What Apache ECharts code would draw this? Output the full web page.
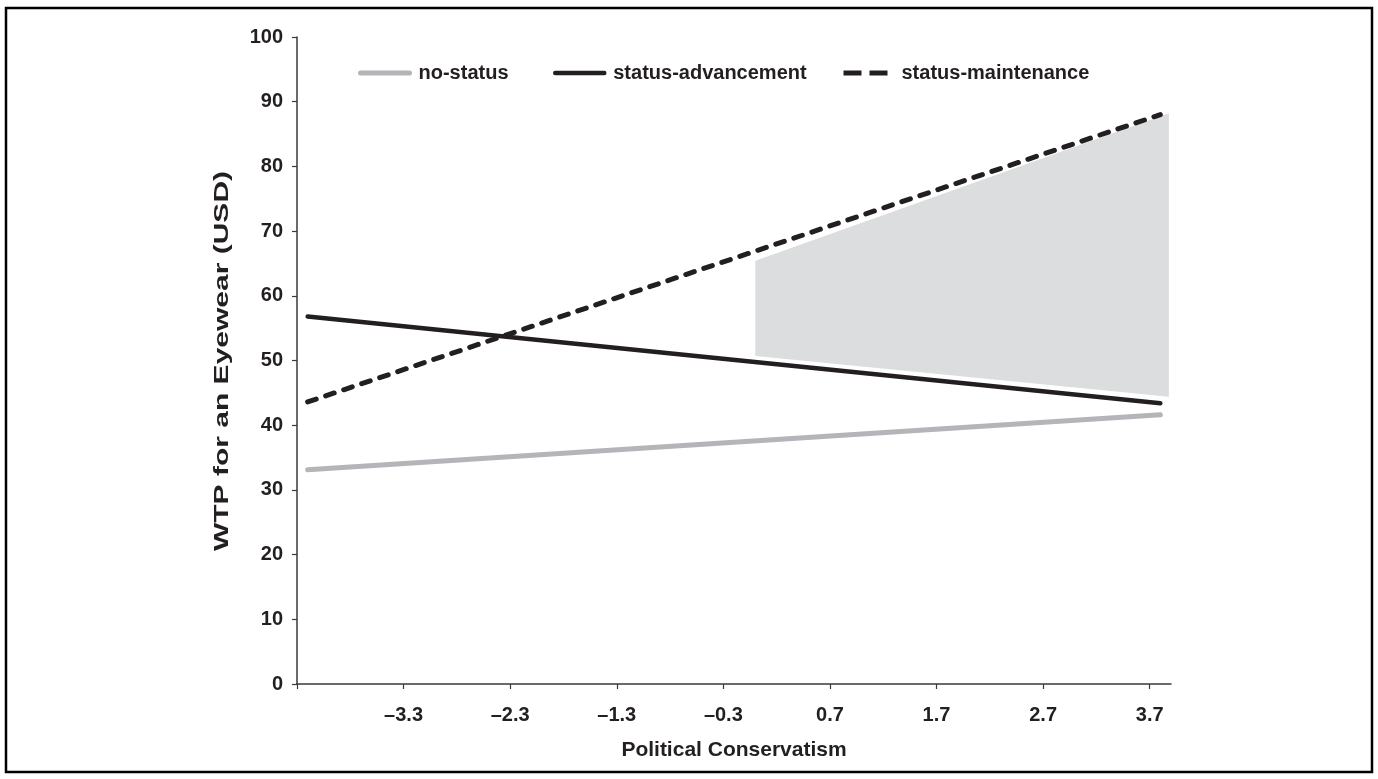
<!DOCTYPE html>
<html>
<head>
<meta charset="utf-8">
<title>WTP for an Eyewear by Political Conservatism</title>
<script src="https://cdn.jsdelivr.net/npm/echarts@6/dist/echarts.min.js"></script>
<style>
  html, body { margin: 0; padding: 0; background: #fff; }
  #chart { width: 1378px; height: 779px; }
</style>
</head>
<body>
<div id="chart"></div>
<script>
// Simple slopes of willingness-to-pay across political conservatism
const seriesNames = ['no-status', 'status-advancement', 'status-maintenance'];
const conservatismRange = [-4.2, 3.8];           // x values at line ends
const noStatus = [33.1, 41.6];
const statusAdvancement = [56.8, 43.4];
const statusMaintenance = [43.6, 88.0];

// Region of significance (shaded)
const regionX = [0.0, 3.88];
const regionUpper = [65.4, 88.2];
const regionLower = [50.7, 44.4];

// Axis ticks and labels
const xTicks = [-4.3, -3.3, -2.3, -1.3, -0.3, 0.7, 1.7, 2.7, 3.7];
const xLabels = [-3.3, -2.3, -1.3, -0.3, 0.7, 1.7, 2.7, 3.7];
const yMin = 0, yMax = 100, yStep = 10;
const yTitle = 'WTP for an Eyewear (USD)';

const ink = '#231f20';
const axisInk = '#3a3a3a';
const font = 'Liberation Sans, Arial, Helvetica, sans-serif';

function pairs(xs, ys) { return xs.map((x, i) => [x, ys[i]]); }

const chart = echarts.init(document.getElementById('chart'), null, { renderer: 'canvas' });

// round caps lengthen each dash by the line width, so the series dash array is set short;
// the legend key gets a longer pattern so that only three dashes fit in it
const lineDefs = [
  { name: seriesNames[0], data: noStatus, color: '#b4b4b9', width: 5, type: 'solid', legendType: 'solid', legendCap: 'round' },
  { name: seriesNames[1], data: statusAdvancement, color: ink, width: 4.5, type: 'solid', legendType: 'solid', legendCap: 'round' },
  { name: seriesNames[2], data: statusMaintenance, color: ink, width: 5, type: [9, 10], legendType: [18, 8], legendCap: 'butt' }
];

const legendLeft = [358, 553, 841];

const option = {
  animation: false,
  backgroundColor: '#fff',
  grid: { left: 297, right: 207, top: 37, bottom: 95, containLabel: false, outerBoundsMode: 'none' },
  legend: lineDefs.map((d, i) => ({
    data: [d.name],
    left: legendLeft[i],
    top: 63,
    padding: 0,
    itemWidth: 49,
    itemHeight: 20,
    selectedMode: false,
    itemStyle: { opacity: 0 },
    textStyle: { fontFamily: font, fontWeight: 'bold', fontSize: 20, color: ink, padding: [0, 0, 0, 4] },
    lineStyle: { width: d.width, type: d.legendType, cap: d.legendCap, color: d.color, opacity: 1 }
  })),
  xAxis: {
    type: 'value',
    min: -4.3,
    max: 3.9,
    name: 'Political Conservatism',
    nameLocation: 'middle',
    nameGap: 56,
    nameTextStyle: { fontFamily: font, fontWeight: 'bold', fontSize: 21, color: ink },
    splitLine: { show: false },
    axisLine: { show: true, onZero: false, lineStyle: { color: axisInk, width: 1.5 } },
    axisTick: { show: true, customValues: xTicks, length: 5, lineStyle: { color: axisInk, width: 1.2 } },
    axisLabel: {
      customValues: xLabels,
      margin: 21,
      fontFamily: font, fontWeight: 'bold', fontSize: 20, color: ink,
      formatter: v => (v < 0 ? '\u2013' : '') + Math.abs(v).toFixed(1)
    }
  },
  yAxis: {
    type: 'value',
    min: yMin,
    max: yMax,
    interval: yStep,
    splitLine: { show: false },
    axisLine: { show: true, onZero: false, lineStyle: { color: axisInk, width: 1.5 } },
    axisTick: { show: true, length: 5, lineStyle: { color: axisInk, width: 1.2 } },
    axisLabel: { margin: 14, fontFamily: font, fontWeight: 'bold', fontSize: 20, color: ink }
  },
  series: [
    {
      type: 'custom',
      name: 'region',
      z: 1,
      silent: true,
      data: [0],
      renderItem: function (params, api) {
        const top = regionX.map((x, i) => api.coord([x, regionUpper[i]]));
        const bottom = regionX.map((x, i) => api.coord([x, regionLower[i]])).reverse();
        return {
          type: 'polygon',
          shape: { points: top.concat(bottom) },
          style: { fill: '#dcdddf', stroke: null }
        };
      }
    }
  ].concat(lineDefs.map(d => ({
    type: 'line',
    name: d.name,
    z: 3,
    symbol: 'none',
    silent: true,
    data: pairs(conservatismRange, d.data),
    itemStyle: { color: d.color },
    lineStyle: { color: d.color, width: d.width, type: d.type, cap: 'round' }
  }))),
  graphic: [
    {
      // vertical axis title, stretched along its reading direction
      type: 'text',
      silent: true,
      x: 222,
      y: 361,
      rotation: Math.PI / 2,
      scaleX: 1.5,
      style: {
        text: yTitle,
        fontFamily: font, fontWeight: 'bold', fontSize: 20, fill: ink,
        align: 'center', verticalAlign: 'middle'
      }
    },
    {
      type: 'rect',
      silent: true,
      shape: { x: 6, y: 8, width: 1366, height: 764 },
      style: { fill: null, stroke: '#000', lineWidth: 2.5 }
    }
  ]
};

chart.setOption(option);
</script>
</body>
</html>
